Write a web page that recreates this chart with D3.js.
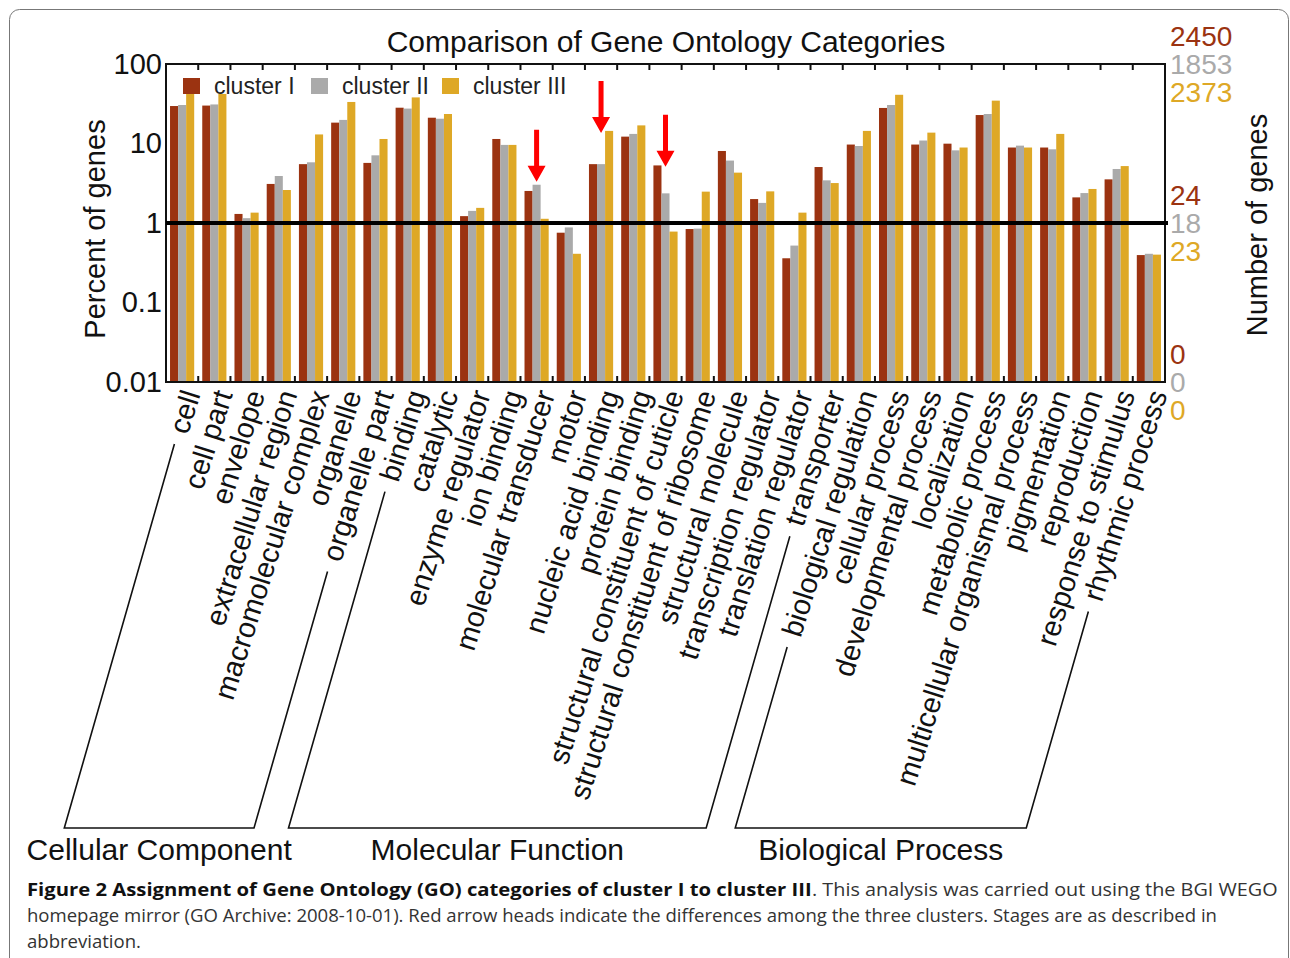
<!DOCTYPE html>
<html>
<head>
<meta charset="utf-8">
<script src="https://cdn.jsdelivr.net/npm/d3@7"></script>
<style>
  html, body { margin: 0; padding: 0; background: #fff; }
  svg { display: block; }
</style>
</head>
<body>
<svg id="chart" width="1290" height="958"></svg>
<script>
// GO categories, in plot order
const categories = [
  'cell', 'cell part', 'envelope', 'extracellular region', 'macromolecular complex',
  'organelle', 'organelle part',
  'binding', 'catalytic', 'enzyme regulator', 'ion binding', 'molecular transducer',
  'motor', 'nucleic acid binding', 'protein binding', 'structural constituent of cuticle',
  'structural constituent of ribosome', 'structural molecule', 'transcription regulator',
  'translation regulator', 'transporter',
  'biological regulation', 'cellular process', 'developmental process', 'localization',
  'metabolic process', 'multicellular organismal process', 'pigmentation',
  'reproduction', 'response to stimulus', 'rhythmic process'
];

// percent of genes
const clusterI = [29.6, 30, 1.3, 3.1, 5.5, 18.3, 5.7, 28.2, 21.1, 1.22, 11.4, 2.53, 0.755,
  5.5, 12.2, 5.3, 0.84, 8.05, 2.0, 0.36, 5.06, 9.7, 28, 9.7, 9.95, 22.8, 8.9, 8.9, 2.1, 3.54, 0.395];
const clusterII = [30.5, 31, 1.15, 3.9, 5.8, 19.8, 7.1, 27.5, 20.5, 1.42, 9.6, 3.03, 0.88,
  5.5, 13.2, 2.36, 0.85, 6.1, 1.79, 0.52, 3.44, 9.3, 30.5, 10.9, 8.2, 23.5, 9.4, 8.45, 2.38, 4.78, 0.41];
const clusterIII = [42, 42, 1.35, 2.6, 13, 33.3, 11.4, 38, 23.5, 1.55, 9.6, 1.13, 0.41,
  14.4, 16.9, 0.78, 2.48, 4.3, 2.5, 1.35, 3.18, 14.4, 41, 13.7, 8.9, 34.6, 8.9, 13.2, 2.68, 5.2, 0.40];

const seriesNames = ['cluster I', 'cluster II', 'cluster III'];
const seriesColors = ['#9b3311', '#aaaaaa', '#dea826'];

const leftTicks = [100, 10, 1, 0.1, 0.01];
const rightTickValues = [100, 1, 0.01];
const rightTickLabels = [
  ['2450', '1853', '2373'],
  ['24', '18', '23'],
  ['0', '0', '0']
];

const ontologyGroups = [
  { name: 'Cellular Component', first: 'cell', last: 'organelle part' },
  { name: 'Molecular Function', first: 'binding', last: 'transporter' },
  { name: 'Biological Process', first: 'biological regulation', last: 'rhythmic process' }
];

// red arrows: category and the percent value where the head ends
const arrowCategories = ['molecular transducer', 'nucleic acid binding', 'structural constituent of cuticle'];
const arrowTips = [3.3, 13.6, 5.1];

const referenceLine = 1;

const series = [clusterI, clusterII, clusterIII];

function drawChart() {
  const svg = d3.select('#chart');
  const font = "'Liberation Sans', Arial, sans-serif";

  const plot = { left: 166, right: 1165, top: 64, bottom: 382 };

  // frame round the figure
  svg.append('rect')
    .attr('x', 9.5).attr('y', 9.5)
    .attr('width', 1279).attr('height', 1000)
    .attr('rx', 10)
    .attr('fill', 'none')
    .attr('stroke', '#777')
    .attr('stroke-width', 1);

  const x = d3.scaleBand()
    .domain(categories)
    .range([plot.left, plot.right])
    .paddingInner(0.25)
    .paddingOuter(0.125);

  const xInner = d3.scaleBand()
    .domain(seriesNames)
    .range([0, x.bandwidth()]);

  const y = d3.scaleLog()
    .domain([0.01, 100])
    .range([plot.bottom, plot.top]);

  // bars
  const groupsSel = svg.append('g')
    .selectAll('g')
    .data(categories)
    .enter()
    .append('g')
    .attr('transform', d => `translate(${x(d)},0)`);

  groupsSel.selectAll('rect')
    .data((d, i) => seriesNames.map((s, k) => ({ s, v: series[k][i], k })))
    .enter()
    .append('rect')
    .attr('x', d => xInner(d.s))
    .attr('y', d => y(d.v))
    .attr('width', xInner.bandwidth())
    .attr('height', d => plot.bottom - y(d.v))
    .attr('fill', d => seriesColors[d.k]);

  // box, with group ticks top and bottom
  const step = x.step();
  const boundaries = d3.range(1, categories.length).map(i => plot.left + i * step);
  const frame = svg.append('g').attr('stroke', '#111').attr('stroke-width', 2);
  frame.append('rect')
    .attr('x', plot.left).attr('y', plot.top)
    .attr('width', plot.right - plot.left).attr('height', plot.bottom - plot.top)
    .attr('fill', 'none');
  frame.selectAll('line.top')
    .data(boundaries).enter().append('line')
    .attr('x1', d => d).attr('x2', d => d)
    .attr('y1', plot.top).attr('y2', plot.top + 6);
  frame.selectAll('line.bottom')
    .data(boundaries).enter().append('line')
    .attr('x1', d => d).attr('x2', d => d)
    .attr('y1', plot.bottom).attr('y2', plot.bottom - 6);

  // left axis
  const leftAxis = svg.append('g')
    .attr('transform', `translate(${plot.left},0)`)
    .call(d3.axisLeft(y).tickValues(leftTicks).tickSize(0).tickPadding(4)
      .tickFormat(d => String(d)));
  leftAxis.select('.domain').remove();
  leftAxis.selectAll('text')
    .attr('font-family', font)
    .attr('font-size', 29)
    .attr('fill', '#111');

  // right axis: three coloured gene counts per tick
  const rightAxis = svg.append('g');
  rightTickValues.forEach((v, i) => {
    rightTickLabels[i].forEach((label, k) => {
      rightAxis.append('text')
        .attr('x', plot.right + 5)
        .attr('y', y(v) + (k - 1) * 28)
        .attr('dy', '0.36em')
        .attr('font-family', font)
        .attr('font-size', 28)
        .attr('fill', seriesColors[k])
        .text(label);
    });
  });

  // reference line at 1 %
  svg.append('line')
    .attr('x1', plot.left).attr('x2', plot.right + 3)
    .attr('y1', y(referenceLine)).attr('y2', y(referenceLine))
    .attr('stroke', '#000')
    .attr('stroke-width', 4);

  // title and axis titles
  svg.append('text')
    .attr('x', 666).attr('y', 52)
    .attr('text-anchor', 'middle')
    .attr('font-family', font).attr('font-size', 30).attr('fill', '#111')
    .text('Comparison of Gene Ontology Categories');

  svg.append('text')
    .attr('transform', `translate(105,${(plot.top + plot.bottom) / 2 + 6}) rotate(-90)`)
    .attr('text-anchor', 'middle')
    .attr('font-family', font).attr('font-size', 29).attr('fill', '#111')
    .text('Percent of genes');

  svg.append('text')
    .attr('transform', `translate(1267,${(plot.top + plot.bottom) / 2 + 2}) rotate(-90)`)
    .attr('text-anchor', 'middle')
    .attr('font-family', font).attr('font-size', 29).attr('fill', '#111')
    .text('Number of genes');

  // legend
  const legendX = [183, 311, 442];
  const legend = svg.append('g');
  seriesNames.forEach((s, k) => {
    legend.append('rect')
      .attr('x', legendX[k]).attr('y', 78)
      .attr('width', 17).attr('height', 16)
      .attr('fill', seriesColors[k]);
    legend.append('text')
      .attr('x', legendX[k] + 31).attr('y', 94)
      .attr('font-family', font).attr('font-size', 23).attr('fill', '#222')
      .text(s);
  });

  // slanted category labels
  const angle = -72.5;
  const rad = angle * Math.PI / 180;
  const dir = { x: Math.cos(rad), y: Math.sin(rad) }; // reading direction
  const labelY = 391;
  const labelOffset = 9;
  const labels = svg.append('g')
    .selectAll('text')
    .data(categories)
    .enter()
    .append('text')
    .attr('transform', d => `translate(${x(d) + x.bandwidth() / 2 + labelOffset},${labelY}) rotate(${angle})`)
    .attr('text-anchor', 'end')
    .attr('dy', '0.35em')
    .attr('font-family', font)
    .attr('font-size', 29)
    .attr('fill', '#111')
    .text(d => d);

  const labelLength = {};
  labels.each(function (d) { labelLength[d] = this.getComputedTextLength(); });

  // brackets grouping the three ontologies
  const bracketBottom = 828;
  const gap = 12;
  const bracketRad = -74 * Math.PI / 180;
  const bdir = { x: Math.cos(bracketRad), y: Math.sin(bracketRad) };
  function footOf(cat) {
    const x0 = x(cat) + x.bandwidth() / 2 + labelOffset;
    const len = labelLength[cat] + gap;
    const sx = x0 - dir.x * len;
    const sy = labelY - dir.y * len;
    const t = (bracketBottom - sy) / (-bdir.y);
    return { sx, sy, ex: sx - bdir.x * t, ey: bracketBottom };
  }
  const brackets = svg.append('g');
  ontologyGroups.forEach(g => {
    const a = footOf(g.first);
    const b = footOf(g.last);
    brackets.append('path')
      .attr('d', `M${a.sx},${a.sy}L${a.ex},${a.ey}L${b.ex},${b.ey}L${b.sx},${b.sy}`)
      .attr('fill', 'none')
      .attr('stroke', '#111')
      .attr('stroke-width', 1.6);
    brackets.append('text')
      .attr('x', (a.ex + b.ex) / 2)
      .attr('y', 860)
      .attr('text-anchor', 'middle')
      .attr('font-family', font).attr('font-size', 30).attr('fill', '#111')
      .text(g.name);
  });

  // red arrows
  const arrows = svg.append('g').attr('fill', '#ff0000');
  arrowCategories.forEach((cat, i) => {
    const cx = x(cat) + x.bandwidth() / 2;
    const tip = y(arrowTips[i]);
    arrows.append('path')
      .attr('d', `M${cx - 2.5},${tip - 52}L${cx + 2.5},${tip - 52}L${cx + 2.5},${tip - 16}` +
        `L${cx + 9},${tip - 16}L${cx},${tip}L${cx - 9},${tip - 16}L${cx - 2.5},${tip - 16}Z`);
  });

  // caption: bold lead and plain text squeezed to the narrow face of the original
  const capFont = "'Open Sans', sans-serif";
  const capLeft = 27;
  const capY = [896, 922, 948];
  function capText(str, bold) {
    const g = svg.append('g');
    const t = g.append('text')
      .attr('x', 0).attr('y', 0)
      .attr('font-family', capFont).attr('font-size', 18)
      .attr('font-weight', bold ? 700 : 400)
      .attr('fill', bold ? '#111' : '#333')
      .text(str);
    return { g, w: t.node().getComputedTextLength() };
  }
  const lead = capText('Figure 2 Assignment of Gene Ontology (GO) categories of cluster I to cluster III', true);
  const rest1 = capText('. This analysis was carried out using the BGI WEGO', false);
  const line2 = capText('homepage mirror (GO Archive: 2008-10-01). Red arrow heads indicate the differences among the three clusters. Stages are as described in', false);
  const line3 = capText('abbreviation.', false);
  const boldScale = 785 / lead.w;
  const plainScale = (1278 - capLeft - 785) / rest1.w;
  const line2Scale = (1218 - capLeft) / line2.w;
  lead.g.attr('transform', `translate(${capLeft},${capY[0]}) scale(${boldScale},1)`);
  rest1.g.attr('transform', `translate(${capLeft + 785},${capY[0]}) scale(${plainScale},1)`);
  line2.g.attr('transform', `translate(${capLeft},${capY[1]}) scale(${line2Scale},1)`);
  line3.g.attr('transform', `translate(${capLeft},${capY[2]}) scale(${line2Scale},1)`);
}

drawChart();
</script>
</body>
</html>
